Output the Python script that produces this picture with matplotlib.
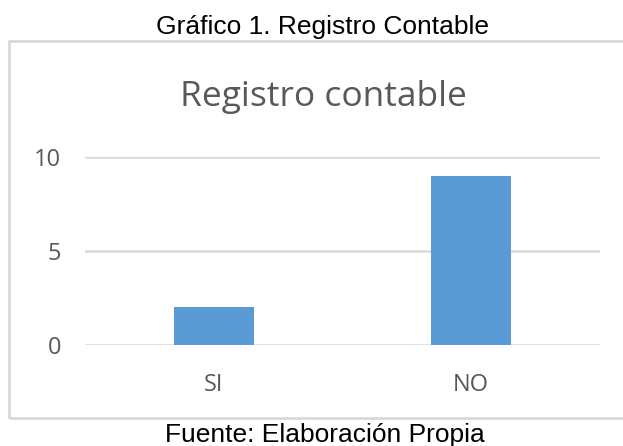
import matplotlib
matplotlib.use("Agg")
import matplotlib.pyplot as plt
from matplotlib.patches import Rectangle

categories = ["SI", "NO"]
values = [2, 9]
yticks = [0, 5, 10]

W, H = 623, 446
fig = plt.figure(figsize=(W / 100, H / 100), dpi=100)

# chart frame (grey border, cut at the right edge)
fig.patches.append(Rectangle((8.5 / W, 1 - 417.5 / H), 1.2, (417.5 - 41) / H,
                             transform=fig.transFigure, fill=False,
                             edgecolor="#d9d9d9", linewidth=2.0))

ax = fig.add_axes([85 / W, 1 - 345 / H, 515 / W, 188 / H])
x = range(len(categories))
ax.bar(x, values, width=0.31, color="#5b9bd5", zorder=3)
ax.set_xlim(-0.5, len(categories) - 0.5)
ax.set_ylim(0, 10)
ax.set_yticks(yticks)
ax.set_xticks(list(x))
ax.set_xticklabels(categories)
for s in ax.spines.values():
    s.set_visible(False)
ax.grid(axis="y", color="#d9d9d9", linewidth=1.8, zorder=0)
ax.tick_params(length=0, labelcolor="#595959", labelsize=17)
ax.tick_params(axis="y", pad=17)
ax.tick_params(axis="x", pad=20)
for lab in ax.get_xticklabels() + ax.get_yticklabels():
    lab.set_family("Open Sans")

fig.text(323 / W, 1 - 106 / H, "Registro contable", ha="center", va="baseline",
         fontsize=25.5, color="#595959", family="Open Sans")
fig.text(322 / W, 1 - 34 / H, "Gráfico 1. Registro Contable", ha="center",
         va="baseline", fontsize=19, color="black", family="Liberation Sans")
fig.text(325 / W, 1 - 442 / H, "Fuente: Elaboración Propia", ha="center",
         va="baseline", fontsize=19, color="black", family="Liberation Sans")

fig.savefig("out.png", dpi=100)
